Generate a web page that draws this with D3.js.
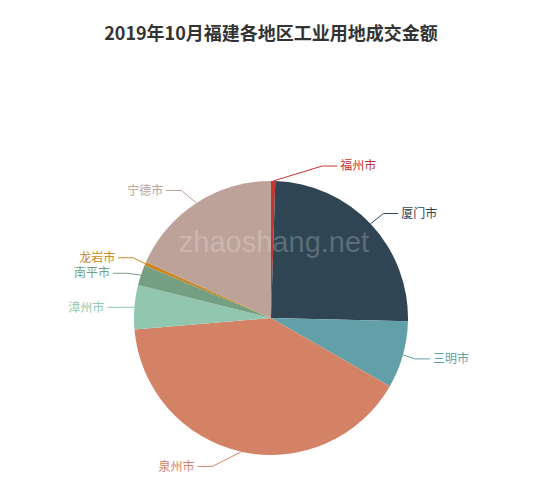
<!DOCTYPE html>
<html>
<head>
<meta charset="utf-8">
<script src="https://cdn.jsdelivr.net/npm/d3@7/dist/d3.min.js"></script>
<style>
  body { margin: 0; background: #fff; }
</style>
</head>
<body>
<div id="chart"></div>
<script>
// data (share of total, %)
var cities = ["福州市", "厦门市", "三明市", "泉州市", "漳州市", "南平市", "龙岩市", "宁德市"];
var amounts = [0.5, 24.9, 7.9, 40.4, 5.2, 2.4, 0.45, 18.3];
var colors = ["#c23531", "#2f4554", "#61a0a8", "#d48265", "#91c7ae", "#749f83", "#ca8622", "#bda29a"];
var title = "2019年10月福建各地区工业用地成交金额";

var width = 550,
    height = 490,
    cx = 271,
    cy = 318,
    radius = 137,
    len1 = 15,
    len2 = 15;

var svg = d3.select("#chart")
  .append("svg")
  .attr("width", width)
  .attr("height", height);

svg.append("text")
  .attr("x", cx)
  .attr("y", 40)
  .attr("text-anchor", "middle")
  .attr("font-family", "'Noto Sans CJK SC', sans-serif")
  .attr("font-size", 18)
  .attr("font-weight", "bold")
  .attr("fill", "#333")
  .text(title);

var data = cities.map(function(c, i) { return {name: c, value: amounts[i], color: colors[i]}; });

var pie = d3.pie().sort(null).value(function(d) { return d.value; });
var arcs = pie(data);
var arc = d3.arc().innerRadius(0).outerRadius(radius);

var g = svg.append("g").attr("transform", "translate(" + cx + "," + cy + ")");

g.selectAll("path")
  .data(arcs)
  .enter().append("path")
  .attr("d", arc)
  .attr("fill", function(d) { return d.data.color; });

// label layout (outer labels, guide line bent horizontally)
var labels = arcs.map(function(d) {
  var mid = (d.startAngle + d.endAngle) / 2;
  var sx = Math.sin(mid), sy = -Math.cos(mid);
  var dir = sx < 0 ? -1 : 1;
  return {
    d: d, dir: dir,
    x0: cx + radius * sx, y0: cy + radius * sy,
    x: cx + (radius + len1) * sx + dir * (len2 + 5),
    y: cy + (radius + len1) * sy,
    height: 15.5
  };
});

function adjustSide(list, dir) {
  list.sort(function(a, b) { return a.y - b.y; });
  function shiftUp(end, delta) {
    for (var j = end; j >= 0; j--) {
      list[j].y -= delta;
      if (j > 0 && list[j].y > list[j - 1].y + list[j - 1].height) break;
    }
  }
  function shiftDown(start, end, delta) {
    for (var j = start; j < end; j++) {
      list[j].y += delta;
      if (j > start && j + 1 < end && list[j + 1].y > list[j].y + list[j].height) {
        shiftUp(j, delta / 2);
        return;
      }
    }
    shiftUp(end - 1, delta / 2);
  }
  var lastY = 0;
  for (var i = 0; i < list.length; i++) {
    var delta = list[i].y - lastY;
    if (delta < 0) shiftDown(i, list.length, -delta);
    lastY = list[i].y + list[i].height;
  }
  var up = list.filter(function(l) { return l.y < cy; });
  var down = list.filter(function(l) { return l.y >= cy; });
  function changeX(arr, isDown) {
    var last = isDown ? Number.MAX_VALUE : 0;
    arr.forEach(function(l) {
      var dy = Math.abs(l.y - cy);
      var R = radius + len1 + len2;
      var dx = dy < radius + len1 ? Math.sqrt(R * R - dy * dy) : Math.abs(l.x - cx);
      if (isDown && dx >= last) dx = last - 10;
      if (!isDown && dx <= last) dx = last + 10;
      l.x = cx + dx * dir;
      last = dx;
    });
  }
  changeX(up, false);
  changeX(down, true);
}

adjustSide(labels.filter(function(l) { return l.dir > 0; }), 1);
adjustSide(labels.filter(function(l) { return l.dir < 0; }), -1);

var lbl = svg.append("g");

lbl.selectAll("polyline")
  .data(labels)
  .enter().append("polyline")
  .attr("fill", "none")
  .attr("stroke", function(l) { return l.d.data.color; })
  .attr("stroke-width", 1)
  .attr("points", function(l) {
    var ex = l.x - l.dir * 3;
    var bx = ex - l.dir * len2;
    return [[l.x0, l.y0], [bx, l.y], [ex, l.y]].join(" ");
  });

lbl.selectAll("text")
  .data(labels)
  .enter().append("text")
  .attr("x", function(l) { return l.x; })
  .attr("y", function(l) { return l.y; })
  .attr("dy", "0.35em")
  .attr("text-anchor", function(l) { return l.dir > 0 ? "start" : "end"; })
  .attr("font-family", "'Noto Sans CJK SC', sans-serif")
  .attr("font-size", 12)
  .attr("fill", function(l) { return l.d.data.color; })
  .text(function(l) { return l.d.data.name; });

// watermark
svg.append("text")
  .attr("x", 274)
  .attr("y", 252)
  .attr("text-anchor", "middle")
  .attr("font-family", "'Liberation Sans', Arial, sans-serif")
  .attr("font-size", 29)
  .attr("fill", "#fff")
  .attr("fill-opacity", 0.22)
  .text("zhaoshang.net");
</script>
</body>
</html>
